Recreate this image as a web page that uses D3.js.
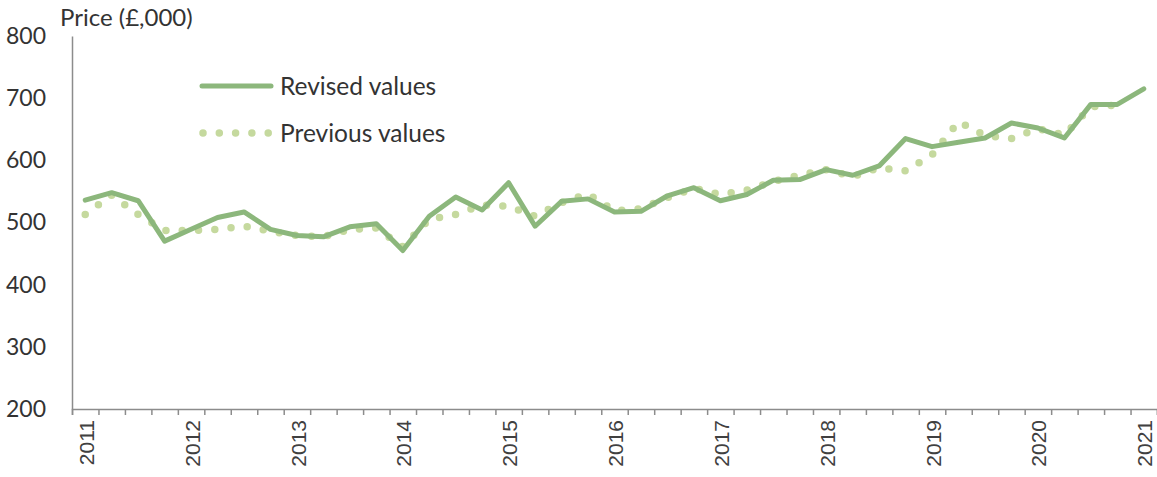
<!DOCTYPE html>
<html>
<head>
<meta charset="utf-8">
<script src="https://cdn.jsdelivr.net/npm/d3@7"></script>
<style>
  body { margin: 0; background: #fff; }
  svg { display: block; }
  .ylab, .title, .legend { font-family: Lato, "Open Sans", sans-serif; fill: #333; }
  .xlab { font-family: "Liberation Sans", Arial, sans-serif; fill: #404040; }
</style>
</head>
<body>
<svg id="chart" width="1157" height="477"></svg>
<script>
// quarterly, 2011 Q1 .. 2021 Q1
const years = [2011, 2012, 2013, 2014, 2015, 2016, 2017, 2018, 2019, 2020, 2021];
const quarters = years.flatMap(y => y === 2021 ? [y + " Q1"] : [1, 2, 3, 4].map(q => y + " Q" + q));

const revised = [536, 548, 535, 470, 489, 508, 517, 489, 479, 477,
                 493, 498, 455, 510, 541, 520, 564, 494, 534, 538,
                 517, 518, 543, 556, 535, 545, 568, 569, 585, 576,
                 591, 635, 622, 629, 636, 660, 652, 636, 690, 690,
                 715];
const previous = [513, 544, 513, 487, 487, 489, 494, 486, 479, 477,
                  489, 491, 461, 505, 513, 528, 526, 510, 532, 546,
                  519, 522, 540, 555, 545, 552, 566, 576, 585, 574,
                  588, 583, 609, 662, 640, 635, 651, 641, 686, 689];
const yTicks = [200, 300, 400, 500, 600, 700, 800];

const svg = d3.select("#chart");
const margin = { top: 36, right: 0, bottom: 68, left: 72 };
const width = +svg.attr("width");
const height = +svg.attr("height");

const x = d3.scaleBand()
  .domain(quarters)
  .range([margin.left, width - margin.right])
  .padding(0);
const xIdx = d3.scaleLinear()
  .domain([0, quarters.length])
  .range([margin.left, width - margin.right]);
const y = d3.scaleLinear()
  .domain([200, 800])
  .range([height - margin.bottom, margin.top]);

const cx = q => x(q) + x.bandwidth() / 2;

// y axis (line only, labels)
const yAxis = svg.append("g")
  .attr("transform", `translate(${margin.left},0)`)
  .call(d3.axisLeft(y).tickValues(yTicks).tickSize(0).tickPadding(26));
yAxis.select(".domain").attr("stroke", "#8c8c8c").attr("stroke-width", 1.5);
yAxis.selectAll("text").attr("class", "ylab").attr("fill", null)
  .style("font-size", "23px");

// x axis tick marks at quarter boundaries
const xTickG = svg.append("g")
  .attr("transform", `translate(0,${height - margin.bottom})`)
  .call(d3.axisBottom(xIdx).tickValues(d3.range(quarters.length + 1)).tickSize(6).tickFormat(""));
xTickG.select(".domain").attr("stroke", "#8c8c8c").attr("stroke-width", 1.5);
xTickG.selectAll(".tick line").attr("stroke", "#8c8c8c").attr("stroke-width", 1.5);

// year labels
const xAxis = svg.append("g")
  .attr("transform", `translate(0,${height - margin.bottom})`)
  .call(d3.axisBottom(x)
    .tickValues(quarters.filter(q => q.endsWith("Q1")))
    .tickSize(0)
    .tickFormat(q => q.slice(0, 4)));
xAxis.select(".domain").remove();
xAxis.selectAll("text")
  .attr("class", "xlab").attr("fill", null)
  .style("font-size", "21px")
  .attr("text-anchor", "end")
  .attr("transform", "rotate(-90)")
  .attr("x", -11)
  .attr("y", 1)
  .attr("dy", "0.36em");

const line = d3.line()
  .x((d, i) => cx(quarters[i]))
  .y(d => y(d));

svg.append("path")
  .datum(previous)
  .attr("fill", "none")
  .attr("stroke", "#c5d99e")
  .attr("stroke-width", 7.5)
  .attr("stroke-linecap", "round")
  .attr("stroke-dasharray", "0 16.3")
  .attr("d", line);

svg.append("path")
  .datum(revised)
  .attr("fill", "none")
  .attr("stroke", "#8cb77c")
  .attr("stroke-width", 5)
  .attr("stroke-linejoin", "round")
  .attr("stroke-linecap", "round")
  .attr("d", line);

// axis title
svg.append("text")
  .attr("class", "title")
  .attr("x", 60)
  .attr("y", 26)
  .style("font-size", "24px")
  .text("Price (£,000)");

// legend
const legend = svg.append("g");
legend.append("line")
  .attr("x1", 202).attr("x2", 271).attr("y1", 86).attr("y2", 86)
  .attr("stroke", "#8cb77c").attr("stroke-width", 5).attr("stroke-linecap", "round");
legend.append("text").attr("class", "legend")
  .attr("x", 280).attr("y", 86).attr("dy", "0.35em")
  .style("font-size", "24.5px").text("Revised values");
legend.append("line")
  .attr("x1", 203).attr("x2", 272).attr("y1", 133).attr("y2", 133)
  .attr("stroke", "#c5d99e").attr("stroke-width", 7.5)
  .attr("stroke-linecap", "round").attr("stroke-dasharray", "0 16.3");
legend.append("text").attr("class", "legend")
  .attr("x", 280).attr("y", 133).attr("dy", "0.35em")
  .style("font-size", "24.5px").text("Previous values");
</script>
</body>
</html>
